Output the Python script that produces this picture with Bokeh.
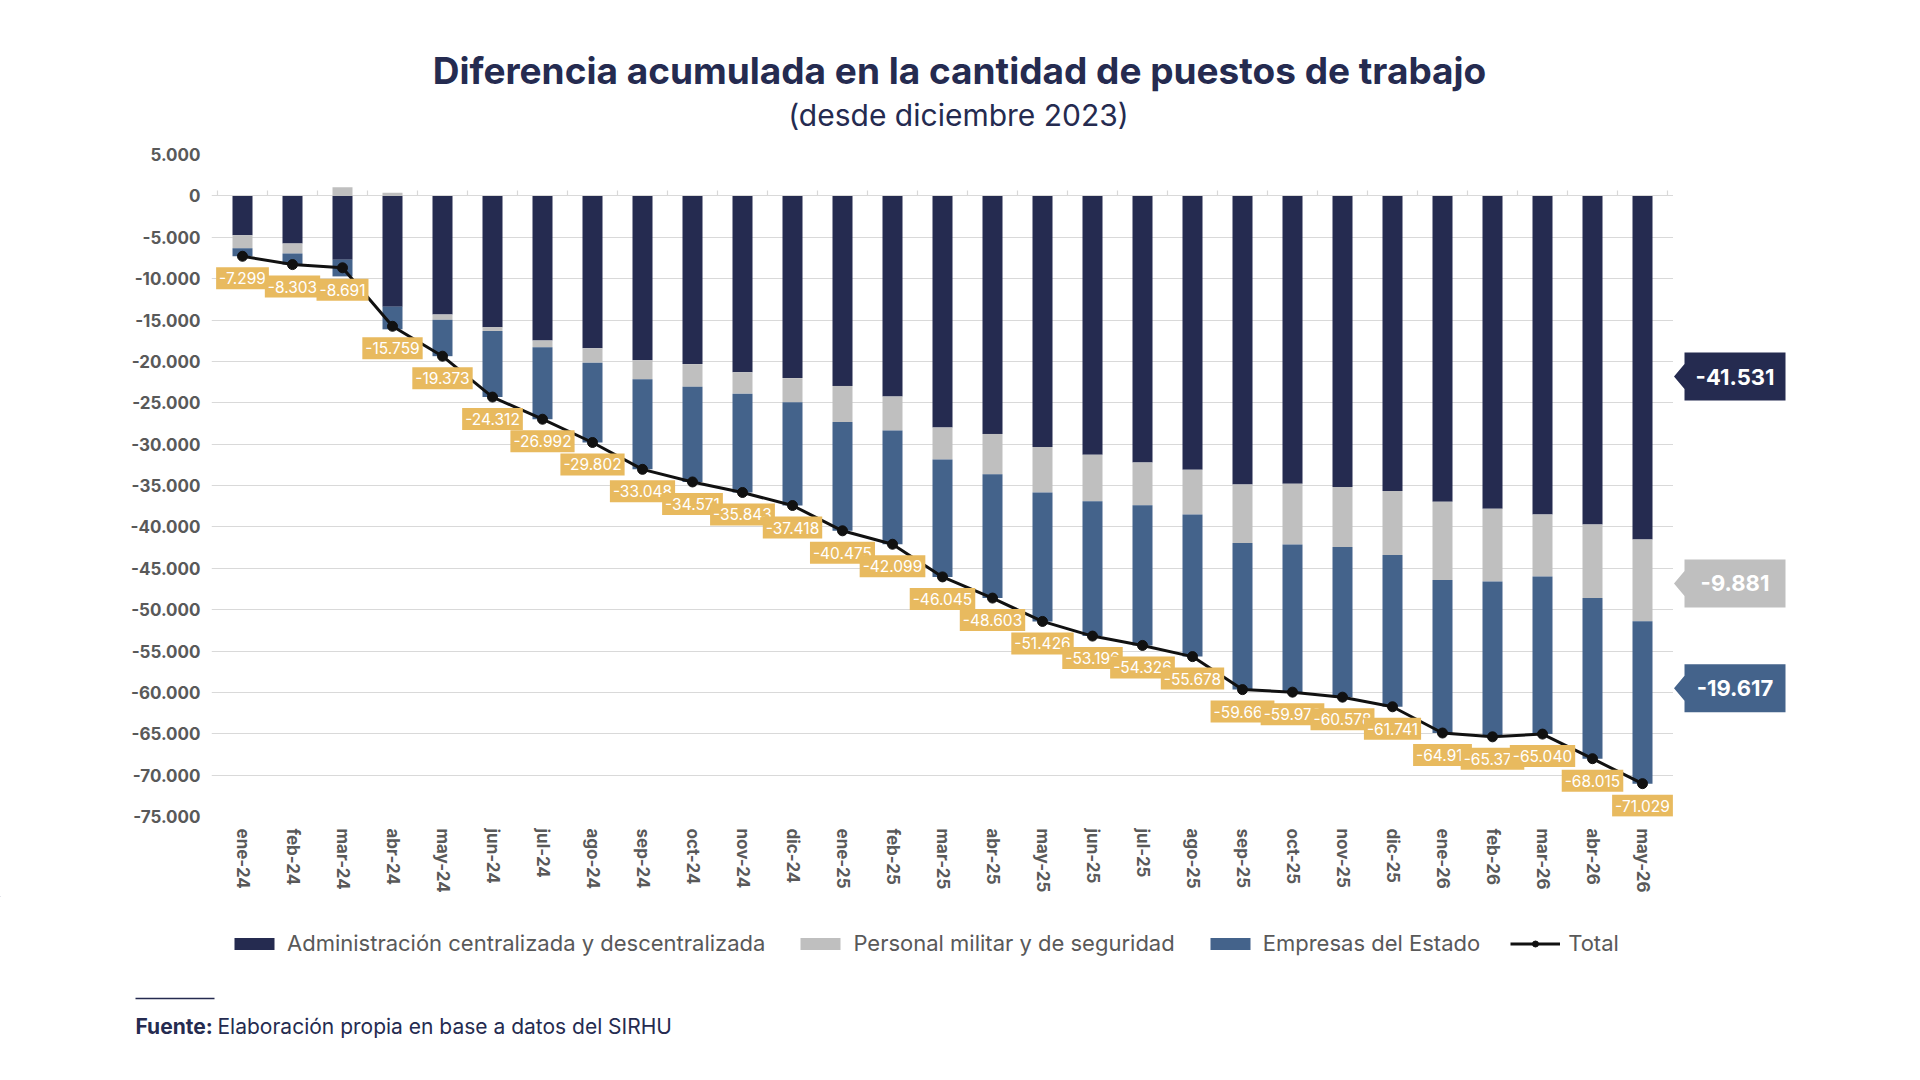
import numpy as np
from bokeh.plotting import figure
from bokeh.layouts import column, row
from bokeh.models import (ColumnDataSource, FixedTicker, Legend, LegendItem,
                          FactorRange, Range1d)
from bokeh.core.properties import value
from bokeh.embed import file_html
from bokeh.resources import INLINE

# ---------------- data ----------------
months = ["ene-24", "feb-24", "mar-24", "abr-24", "may-24", "jun-24", "jul-24", "ago-24",
          "sep-24", "oct-24", "nov-24", "dic-24", "ene-25", "feb-25", "mar-25", "abr-25",
          "may-25", "jun-25", "jul-25", "ago-25", "sep-25", "oct-25", "nov-25", "dic-25",
          "ene-26", "feb-26", "mar-26", "abr-26", "may-26"]

admin = [-4766, -5752, -7717, -13385, -14334, -15864, -17479, -18429, -19862, -20328,
         -21314, -22022, -22971, -24247, -27991, -28771, -30362, -31275, -32225, -33090,
         -34886, -34783, -35176, -35678, -36978, -37819, -38490, -39718, -41531]

militar = [-1573, -1209, 1040, 369, -641, -460, -811, -1730, -2299, -2746,
           -2588, -2903, -4355, -4113, -3871, -4875, -5479, -5637, -5153, -5407,
           -7052, -7342, -7258, -7706, -9435, -8794, -7500, -8867, -9881]

empresas = [-960, -1342, -2014, -2743, -4398, -7988, -8702, -9643, -10887, -11497,
            -11941, -12493, -13149, -13739, -14183, -14957, -15585, -16284, -16948, -17181,
            -17729, -17847, -18144, -18357, -18498, -18759, -19050, -19430, -19617]

total = [-7299, -8303, -8691, -15759, -19373, -24312, -26992, -29802, -33048, -34571,
         -35843, -37418, -40475, -42099, -46045, -48603, -51426, -53196, -54326, -55678,
         -59667, -59972, -60578, -61741, -64911, -65372, -65040, -68015, -71029]

y_ticks = [5000, 0, -5000, -10000, -15000, -20000, -25000, -30000, -35000, -40000,
           -45000, -50000, -55000, -60000, -65000, -70000, -75000]
y_tick_labels = ["5.000", "0", "-5.000", "-10.000", "-15.000", "-20.000", "-25.000",
                 "-30.000", "-35.000", "-40.000", "-45.000", "-50.000", "-55.000",
                 "-60.000", "-65.000", "-70.000", "-75.000"]

series_names = ["Administración centralizada y descentralizada",
                "Personal militar y de seguridad", "Empresas del Estado", "Total"]

title_text = "Diferencia acumulada en la cantidad de puestos de trabajo"
subtitle_text = "(desde diciembre 2023)"
source_bold = "Fuente:"
source_text = "Elaboración propia en base a datos del SIRHU"

# ---------------- style ----------------
NAVY = "#252B50"
GRAY = "#BFBFBF"
BLUE = "#44638B"
GOLD = "#E8BA5F"
TXT = "#595959"
GRID = "#D9D9D9"
FONT_NAME = "Inter"
FONT = value(FONT_NAME)
PAGE_W = 1920


def fmt(v):
    return f"{v:,}".replace(",", ".")


def blank(width, height, xr, yr, **kw):
    f = figure(width=width, height=height, x_range=xr, y_range=yr,
               x_axis_type=None, y_axis_type=None, output_backend="svg",
               toolbar_location=None, title=None, min_border=0, **kw)
    f.outline_line_color = None
    f.grid.visible = False
    f.background_fill_color = "white"
    f.border_fill_color = "white"
    return f


# ---------------- header ----------------
HEAD_H = 140
head = blank(PAGE_W, HEAD_H, Range1d(0, PAGE_W), Range1d(HEAD_H, 0))
head.text(x=[959], y=[69.5], text=[title_text], text_align="center", text_baseline="middle",
          text_font=FONT, text_font_size="37px", text_font_style="bold", text_color=NAVY)
head.text(x=[958], y=[114], text=[subtitle_text], text_align="center",
          text_baseline="middle", text_font=FONT, text_font_size="30px", text_color=NAVY)

# ---------------- main chart ----------------
a = np.array(admin, dtype=float)
m = np.array(militar, dtype=float)
e = np.array(empresas, dtype=float)

src = ColumnDataSource(dict(
    x=months,
    adm_top=np.zeros_like(a), adm_bot=a,
    mil_top=np.where(m < 0, a, m), mil_bot=np.where(m < 0, a + m, 0.0),
    emp_top=a + np.minimum(m, 0), emp_bot=a + np.minimum(m, 0) + e,
    total=total, lab=[fmt(v) for v in total],
))

CAT_W = 50.0
PAD = 0.12
FW = int(round(CAT_W * (len(months) + 2 * PAD)))
FH = 662
LEFT, TOP, BOTTOM = 211, 14, 80
p = figure(x_range=FactorRange(*months, range_padding=PAD, range_padding_units="absolute"),
           y_range=Range1d(-75000, 5000),
           frame_width=FW, frame_height=FH, min_border_left=LEFT, min_border_right=0,
           min_border_top=TOP, min_border_bottom=BOTTOM, output_backend="svg",
           toolbar_location=None, title=None)
p.outline_line_color = None
p.background_fill_color = "white"
p.border_fill_color = "white"

p.xgrid.grid_line_color = None
p.ygrid.grid_line_color = GRID
p.ygrid.grid_line_width = 1.2
p.ygrid.ticker = FixedTicker(ticks=y_ticks)
p.yaxis.ticker = FixedTicker(ticks=y_ticks)
p.yaxis.major_label_overrides = {t: l for t, l in zip(y_ticks, y_tick_labels)}
for ax in (p.xaxis, p.yaxis):
    ax.axis_line_color = None
    ax.major_tick_line_color = None
    ax.minor_tick_line_color = None
    ax.major_label_text_font = FONT_NAME
    ax.major_label_text_font_style = "bold"
    ax.major_label_text_color = TXT
    ax.major_label_text_font_size = "17px"
p.yaxis.major_label_standoff = 5
p.xaxis.major_label_orientation = "vertical"
p.xaxis.major_label_standoff = 6

bounds = [(c, -0.5) for c in months] + [(months[-1], 0.5)]
p.segment(x0=bounds, x1=bounds, y0=[0] * len(bounds), y1=[650] * len(bounds),
          line_color=GRID, line_width=1.2)

W = 0.4
p.vbar(x="x", top="adm_top", bottom="adm_bot", width=W, source=src,
       fill_color=NAVY, line_color=None)
p.vbar(x="x", top="mil_top", bottom="mil_bot", width=W, source=src,
       fill_color=GRAY, line_color=None)
p.vbar(x="x", top="emp_top", bottom="emp_bot", width=W, source=src,
       fill_color=BLUE, line_color=None)
p.line(x="x", y="total", source=src, line_color="#111111", line_width=3)
p.scatter(x="x", y="total", source=src, size=10, fill_color="#111111", line_color="#111111")

p.text(x="x", y="total", text="lab", source=src, y_offset=22, text_align="center",
       text_baseline="middle", text_font=FONT, text_font_size="15.5px", text_color="white",
       background_fill_color=GOLD, padding=(3, 5))

# ---------------- right callouts (share y scale) ----------------
CW = PAGE_W - LEFT - FW
cfig = blank(CW, TOP + FH + BOTTOM, Range1d(0, CW), p.y_range,
             frame_width=CW, frame_height=FH, min_border_top=TOP,
             min_border_bottom=BOTTOM)
px2data = (5000 - (-75000)) / FH
call_vals = [admin[-1], militar[-1], empresas[-1]]
call_cols = [NAVY, GRAY, BLUE]
call_pos = [-21840, -46830, -59500]
tip, bl, br = 0.5, 11, 112
hh, ah = 24 * px2data, 12.5 * px2data
cfig.patches(xs=[[tip, bl, bl, br, br, bl, bl] for _ in call_pos],
             ys=[[cy, cy + ah, cy + hh, cy + hh, cy - hh, cy - hh, cy - ah] for cy in call_pos],
             fill_color=call_cols, line_color=None)
cfig.text(x=[(bl + br) / 2] * 3, y=call_pos, text=[fmt(v) for v in call_vals],
          text_align="center", text_baseline="middle", text_font=FONT,
          text_font_size="22px", text_font_style="bold", text_color="white")

# ---------------- footer: legend + source ----------------
FOOT_H = 180
foot = blank(PAGE_W, FOOT_H, Range1d(0, PAGE_W), Range1d(FOOT_H, 0))
off = [-100]
l_adm = foot.vbar(x=off, top=off, bottom=[-110], width=1, fill_color=NAVY, line_color=None)
l_mil = foot.vbar(x=off, top=off, bottom=[-110], width=1, fill_color=GRAY, line_color=None)
l_emp = foot.vbar(x=off, top=off, bottom=[-110], width=1, fill_color=BLUE, line_color=None)
l_line = foot.line(x=[-100, -90], y=[-100, -100], line_color="#111111", line_width=3)
l_pts = foot.scatter(x=off, y=off, size=14, fill_color="#111111", line_color="#111111")
legend = Legend(items=[LegendItem(label=series_names[0], renderers=[l_adm]),
                       LegendItem(label=series_names[1], renderers=[l_mil]),
                       LegendItem(label=series_names[2], renderers=[l_emp]),
                       LegendItem(label=series_names[3], renderers=[l_line, l_pts])],
                orientation="horizontal", location=(229, 120))
legend.border_line_color = None
legend.background_fill_alpha = 0
legend.padding = 0
legend.margin = 0
legend.spacing = 30
legend.label_standoff = 8
legend.glyph_width = 50
legend.glyph_height = 15
legend.label_text_font = FONT_NAME
legend.label_text_font_size = "22px"
legend.label_text_color = TXT
foot.add_layout(legend)

foot.segment(x0=[135], x1=[214], y0=[102], y1=[102], line_color=NAVY, line_width=1.5)
foot.text(x=[135], y=[130], text=[source_bold], text_align="left", text_baseline="middle",
          text_font=FONT, text_font_size="21px", text_font_style="bold", text_color=NAVY)
foot.text(x=[217], y=[130], text=[source_text], text_align="left", text_baseline="middle",
          text_font=FONT, text_font_size="21px", text_color=NAVY)

layout = column(head, row(p, cfig, spacing=0), foot, spacing=0)
open("out.html", "w").write(file_html(layout, INLINE))
